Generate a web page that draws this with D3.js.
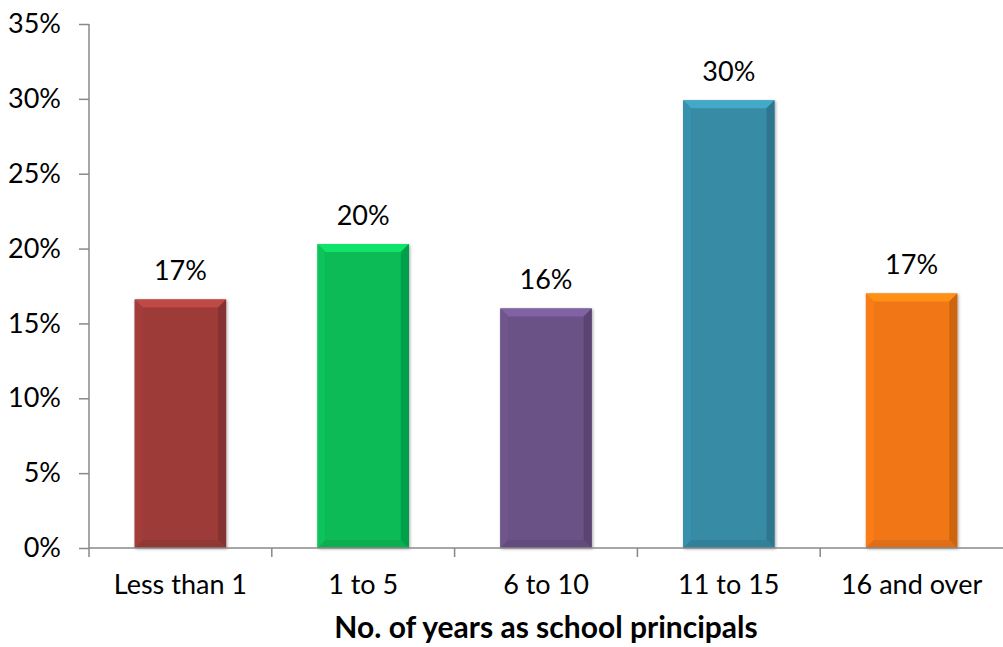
<!DOCTYPE html>
<html lang="en">
<head>
  <meta charset="UTF-8">
  <title>Years as school principals</title>
  <style>
  body {
    margin: 0;
    background: white;
  }
  svg text {
    font-family: Lato, "Open Sans", sans-serif;
    fill: #000;
  }
  </style>
</head>
<body>
  <script src="https://cdnjs.cloudflare.com/ajax/libs/d3/7.8.5/d3.min.js"></script>
  <script>

  var categories = ['Less than 1', '1 to 5', '6 to 10', '11 to 15', '16 and over'];
  var values = [16.6, 20.3, 16.0, 29.9, 17.0];
  var labels = ['17%', '20%', '16%', '30%', '17%'];
  var colors = ['#9c3b39', '#07bb56', '#6a5186', '#378ba5', '#f07614'];
  var yTicks = [0, 5, 10, 15, 20, 25, 30, 35];

  var width = 1003;
  var height = 647;
  var plotLeft = 89, plotRight = 1003, plotTop = 24, plotBottom = 548;
  var fontSize = '27px';

  var svg = d3.select('body').append('svg')
              .attr('width', width)
              .attr('height', height);

  var x = d3.scaleBand()
            .domain(categories)
            .range([plotLeft, plotRight])
            .paddingInner(0.5)
            .paddingOuter(0.25);

  var y = d3.scaleLinear()
            .domain([0, 35])
            .range([plotBottom, plotTop]);

  var defs = svg.append('defs');
  var shadow = defs.append('filter')
                   .attr('id', 'shadow')
                   .attr('x', '-10%').attr('y', '-10%')
                   .attr('width', '130%').attr('height', '130%');
  shadow.append('feDropShadow')
        .attr('dx', 1).attr('dy', 1)
        .attr('stdDeviation', 1.5)
        .attr('flood-color', '#000')
        .attr('flood-opacity', 0.35);

  // bars with a bevel look
  var bevel = 8;
  var bar = svg.append('g').selectAll('g')
               .data(categories)
               .enter()
               .append('g')
               .attr('filter', 'url(#shadow)');

  bar.each(function (d, i) {
    var g = d3.select(this);
    var x0 = x(d), x1 = x(d) + x.bandwidth();
    var y0 = y(values[i]), y1 = y(0);
    var c = d3.color(colors[i]);
    var b = Math.min(bevel, (y1 - y0) / 2);

    g.append('rect')
     .attr('x', x0).attr('y', y0)
     .attr('width', x1 - x0).attr('height', y1 - y0)
     .attr('fill', c);

    // top
    g.append('path')
     .attr('d', 'M' + x0 + ',' + y0 + 'L' + x1 + ',' + y0 + 'L' + (x1 - b) + ',' + (y0 + b) + 'L' + (x0 + b) + ',' + (y0 + b) + 'Z')
     .attr('fill', c.brighter(0.55));
    // left
    g.append('path')
     .attr('d', 'M' + x0 + ',' + y0 + 'L' + (x0 + b) + ',' + (y0 + b) + 'L' + (x0 + b) + ',' + (y1 - b) + 'L' + x0 + ',' + y1 + 'Z')
     .attr('fill', c.brighter(0.12));
    // right
    g.append('path')
     .attr('d', 'M' + x1 + ',' + y0 + 'L' + (x1 - b) + ',' + (y0 + b) + 'L' + (x1 - b) + ',' + (y1 - b) + 'L' + x1 + ',' + y1 + 'Z')
     .attr('fill', c.darker(0.45));
    // bottom
    g.append('path')
     .attr('d', 'M' + x0 + ',' + y1 + 'L' + (x0 + b) + ',' + (y1 - b) + 'L' + (x1 - b) + ',' + (y1 - b) + 'L' + x1 + ',' + y1 + 'Z')
     .attr('fill', c.darker(0.2));
  });

  // value labels
  svg.append('g').selectAll('text')
     .data(categories)
     .enter()
     .append('text')
     .attr('x', function (d) { return x(d) + x.bandwidth() / 2; })
     .attr('y', function (d, i) { return y(values[i]) - 19; })
     .attr('text-anchor', 'middle')
     .style('font-size', fontSize)
     .text(function (d, i) { return labels[i]; });

  // y axis
  var yAxis = d3.axisLeft(y)
                .tickValues(yTicks)
                .tickSize(10)
                .tickPadding(18)
                .tickFormat(function (d) { return d + '%'; });

  var yg = svg.append('g')
              .attr('transform', 'translate(' + plotLeft + ',0)')
              .call(yAxis);
  yg.select('.domain').remove();
  yg.append('line')
    .attr('x1', 0).attr('x2', 0)
    .attr('y1', plotTop).attr('y2', plotBottom + 9)
    .attr('stroke', '#888').attr('stroke-width', 1.5);
  yg.selectAll('.tick line').attr('stroke', '#888').attr('stroke-width', 1.5);
  yg.selectAll('.tick text')
    .style('font-size', fontSize)
    .attr('fill', '#000');

  // x axis
  var xAxis = d3.axisBottom(x).tickSize(0).tickPadding(27);
  var xg = svg.append('g')
              .attr('transform', 'translate(0,' + plotBottom + ')')
              .call(xAxis);
  xg.select('.domain').remove();
  xg.append('line')
    .attr('x1', plotLeft).attr('x2', plotRight)
    .attr('y1', 0).attr('y2', 0)
    .attr('stroke', '#888').attr('stroke-width', 1.5);
  xg.selectAll('.sep')
    .data(d3.range(1, categories.length))
    .enter()
    .append('line')
    .attr('x1', function (d) { return plotLeft + d * (plotRight - plotLeft) / categories.length; })
    .attr('x2', function (d) { return plotLeft + d * (plotRight - plotLeft) / categories.length; })
    .attr('y1', 0).attr('y2', 9)
    .attr('stroke', '#888').attr('stroke-width', 1.5);
  xg.selectAll('.tick text')
    .style('font-size', fontSize)
    .attr('fill', '#000');

  svg.append('text')
     .attr('x', (plotLeft + plotRight) / 2)
     .attr('y', 638)
     .attr('text-anchor', 'middle')
     .style('font-size', '30px')
     .style('font-weight', 'bold')
     .text('No. of years as school principals');
  </script>
</body>
</html>
